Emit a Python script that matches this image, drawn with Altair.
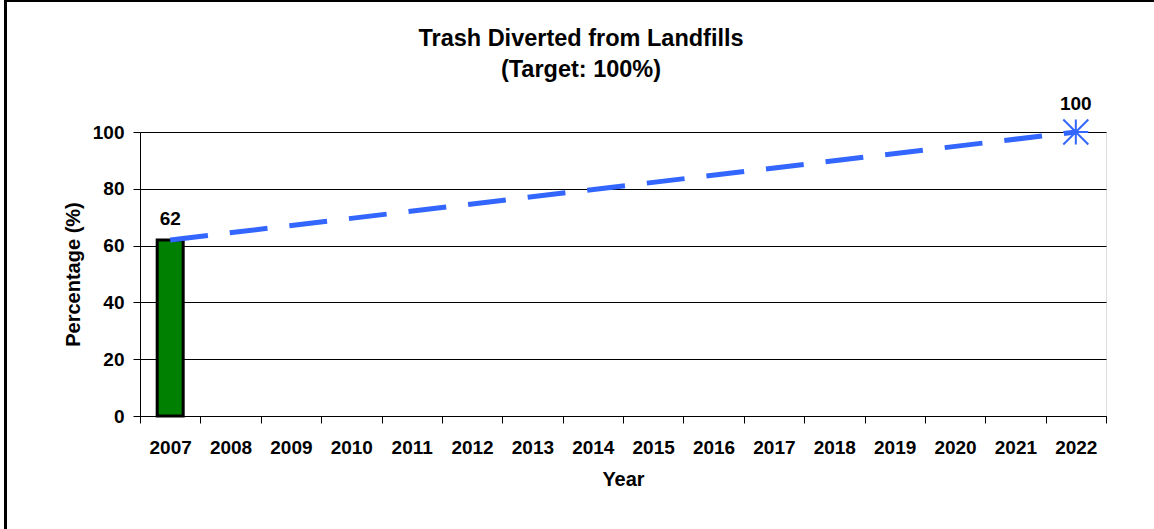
import altair as alt
import pandas as pd

# ---- data ----
years = ["2007", "2008", "2009", "2010", "2011", "2012", "2013", "2014",
         "2015", "2016", "2017", "2018", "2019", "2020", "2021", "2022"]
actual_years = ["2007"]
actual_pct = [62]
target_years = ["2007", "2022"]
target_pct = [62, 100]
y_ticks = [0, 20, 40, 60, 80, 100]

FONT = "Liberation Sans"
BLUE = "#3366FF"

actual_df = pd.DataFrame({"year": actual_years, "pct": actual_pct})
target_df = pd.DataFrame({"year": target_years, "pct": target_pct})
start_df = target_df.iloc[[0]]
end_df = target_df.iloc[[-1]]

x_enc = alt.X(
    "year:O",
    scale=alt.Scale(domain=years, paddingInner=0, paddingOuter=0),
    axis=alt.Axis(
        labelAngle=0, tickBand="extent", tickSize=7, tickColor="black",
        domainColor="black", labelPadding=15, labelFont=FONT,
        labelFontSize=19, labelFontWeight="bold", labelColor="black",
        titleFont=FONT, titleFontSize=20, titleFontWeight="bold",
        titleColor="black", titlePadding=12, grid=False,
    ),
    title="Year",
)
y_enc = alt.Y(
    "pct:Q",
    scale=alt.Scale(domain=[0, 100], nice=False),
    axis=alt.Axis(
        values=y_ticks, tickSize=7, tickColor="black", domainColor="black",
        labelPadding=9, labelFont=FONT, labelFontSize=19,
        labelFontWeight="bold", labelColor="black", titleFont=FONT,
        titleFontSize=20, titleFontWeight="bold", titleColor="black",
        titlePadding=9, grid=True, gridColor="black", gridWidth=1,
    ),
    title="Percentage (%)",
)

bars = alt.Chart(actual_df).mark_bar(
    size=26, color="#008000", stroke="black", strokeWidth=3
).encode(x=x_enc, y=y_enc)

line = alt.Chart(target_df).mark_line(
    color=BLUE, strokeWidth=5, strokeDash=[38, 22]
).encode(x="year:O", y="pct:Q")

star_path = "M-1,-1L1,1M-1,1L1,-1M0,-1L0,1M-1,0L1,0"
star = alt.Chart(end_df).mark_point(
    shape=star_path, size=625, filled=False, stroke=BLUE, strokeWidth=2,
    opacity=1
).encode(x="year:O", y="pct:Q")

lbl_start = alt.Chart(start_df).mark_text(
    font=FONT, fontSize=19, fontWeight="bold", color="black",
    baseline="alphabetic", dy=-15
).encode(x="year:O", y="pct:Q", text="pct:Q")

lbl_end = alt.Chart(end_df).mark_text(
    font=FONT, fontSize=19, fontWeight="bold", color="black",
    baseline="alphabetic", dy=-22
).encode(x="year:O", y="pct:Q", text="pct:Q")

# outer frame lines (left and top edges of the picture)
frame_df = pd.DataFrame({"k": [0]})
frame_left = alt.Chart(frame_df).mark_rule(color="black", strokeWidth=3).encode(
    x=alt.value(-134.5), y=alt.value(-132), y2=alt.value(400)
)
frame_top = alt.Chart(frame_df).mark_rule(color="black", strokeWidth=2).encode(
    x=alt.value(-136), x2=alt.value(1020), y=alt.value(-131)
)

chart = alt.layer(
    bars, line, star, lbl_start, lbl_end, frame_left, frame_top
).properties(
    width=966,
    height=284,
    title=alt.TitleParams(
        text=["Trash Diverted from Landfills", "(Target: 100%)"],
        font=FONT, fontSize=23.5, fontWeight="bold", color="black",
        anchor="middle", dx=-42, offset=-83, lineHeight=31,
    ),
    autosize=alt.AutoSizeParams(type="none"),
    padding={"left": 140, "top": 132, "right": 48, "bottom": 113},
).configure_view(
    fill="#F0F0F0", stroke="black", strokeWidth=1
).configure(background="white")

chart.save("out.html", embed_options={"renderer": "svg", "actions": False})
